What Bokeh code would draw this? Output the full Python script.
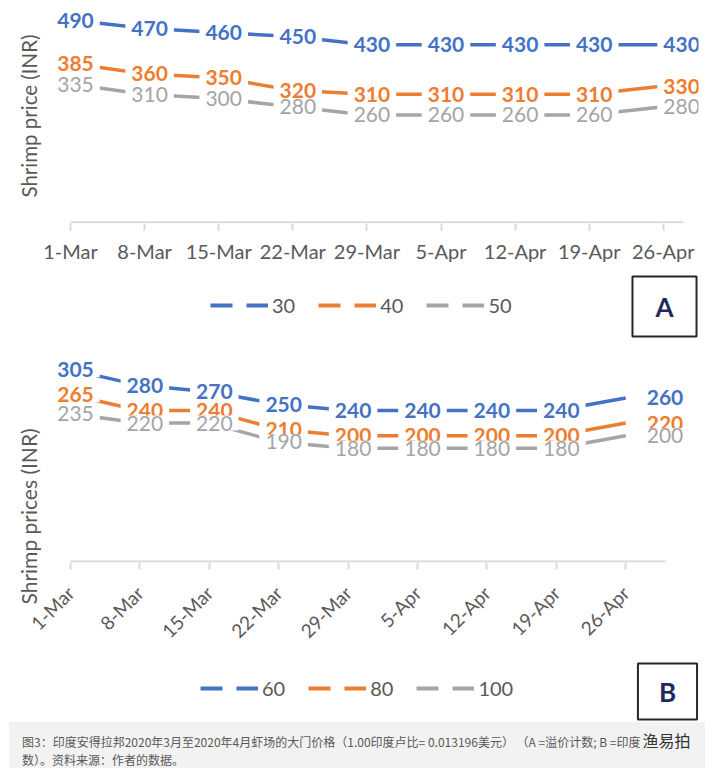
import math
from bokeh.plotting import figure
from bokeh.models import (ColumnDataSource, Range1d, FixedTicker, Legend, LegendItem,
                          Label, Title, Div)
from bokeh.layouts import column
from bokeh.embed import file_html
from bokeh.resources import INLINE
from bokeh.core.properties import value

# ---------------- data ----------------
dates = ["1-Mar", "8-Mar", "15-Mar", "22-Mar", "29-Mar", "5-Apr", "12-Apr", "19-Apr", "26-Apr"]

# Panel A (count grades 30 / 40 / 50)
a_labels = ["30", "40", "50"]
a_30 = [490, 470, 460, 450, 430, 430, 430, 430, 430]
a_40 = [385, 360, 350, 320, 310, 310, 310, 310, 330]
a_50 = [335, 310, 300, 280, 260, 260, 260, 260, 280]

# Panel B (count grades 60 / 80 / 100)
b_labels = ["60", "80", "100"]
b_60 = [305, 280, 270, 250, 240, 240, 240, 240, 260]
b_80 = [265, 240, 240, 210, 200, 200, 200, 200, 220]
b_100 = [235, 220, 220, 190, 180, 180, 180, 180, 200]

y_title_a = "Shrimp price (INR)"
y_title_b = "Shrimp prices (INR)"
caption_1 = "图3：印度安得拉邦2020年3月至2020年4月虾场的大门价格（1.00印度卢比= 0.013196美元） （A =溢价计数; B =印度"
caption_2 = "数）。资料来源：作者的数据。"
watermark = "渔易拍"

# ---------------- style ----------------
BLUE = "#4472c4"
ORANGE = "#ed7d31"
GRAY = "#a5a5a5"
AXC = "#595959"
TICKC = "#d9d9d9"
FONT = "Lato"
colors = [BLUE, ORANGE, GRAY]
styles = ["bold", "bold", "normal"]
W = 699
LEFT = 40

idx = list(range(len(dates)))


def chart(series, fig_h, x_rng, y_rng, b_top, b_bottom, label_dx, last_dx, base_end,
          tick_orient, tick_size, standoff, ytitle, ytitle_size, ytitle_align, ytitle_offset):
    p = figure(width=W, height=fig_h, x_range=Range1d(*x_rng), y_range=Range1d(*y_rng),
               output_backend="svg", toolbar_location=None, y_axis_type=None,
               min_border_left=LEFT, min_border_right=1, min_border_top=b_top,
               min_border_bottom=b_bottom)
    p.outline_line_color = None
    p.xgrid.visible = False
    p.ygrid.visible = False
    ax = p.xaxis[0]
    ax.ticker = FixedTicker(ticks=idx)
    ax.major_label_overrides = {i: d for i, d in enumerate(dates)}
    ax.axis_line_color = None
    ax.major_tick_line_color = TICKC
    ax.major_tick_line_width = 2
    ax.major_tick_out = 7
    ax.major_tick_in = 0
    ax.minor_tick_line_color = None
    ax.major_label_text_font = FONT
    ax.major_label_text_font_size = tick_size
    ax.major_label_text_color = AXC
    ax.major_label_standoff = standoff
    if tick_orient:
        ax.major_label_orientation = tick_orient

    p.add_layout(Title(text=ytitle, align=ytitle_align, offset=ytitle_offset, standoff=0,
                       text_font=FONT, text_font_size=ytitle_size, text_font_style="normal",
                       text_color=AXC), "left")

    # category axis baseline
    p.segment(x0=[0], y0=[0], x1=[base_end], y1=[0], line_color=TICKC, line_width=2)

    for vals, c in zip(series, colors):
        p.line(x=idx, y=vals, line_color=c, line_width=3.5)

    for vals, c, fs in zip(series, colors, styles):
        src = ColumnDataSource(dict(x=idx[:-1], y=vals[:-1], t=[str(v) for v in vals[:-1]]))
        p.text(x="x", y="y", text="t", source=src, text_align="center", text_baseline="middle",
               x_offset=label_dx, text_color=c, text_font=value(FONT), text_font_size="21px",
               text_font_style=fs, background_fill_color="white", padding=dict(x=6, y=0))
        src2 = ColumnDataSource(dict(x=idx[-1:], y=vals[-1:], t=[str(v) for v in vals[-1:]]))
        p.text(x="x", y="y", text="t", source=src2, text_align="left", text_baseline="middle",
               x_offset=last_dx, text_color=c, text_font=value(FONT), text_font_size="21px",
               text_font_style=fs, background_fill_color="white", padding=dict(x=6, y=0))
    return p


def strip(names, h, leg_loc, leg_spacing, box_xy, box_text, box_pad):
    s = figure(width=W, height=h, x_range=Range1d(LEFT, W - 1), y_range=Range1d(h, 0),
               x_axis_type=None, y_axis_type=None, output_backend="svg",
               toolbar_location=None, min_border=0, min_border_left=LEFT,
               min_border_right=1)
    s.outline_line_color = None
    s.grid.visible = False
    items = []
    for name, c in zip(names, colors):
        r = s.line(x=[float("nan")], y=[float("nan")], line_color=c, line_width=4,
                   line_dash="22 14")
        items.append(LegendItem(label=name, renderers=[r]))
    leg = Legend(items=items, location=leg_loc, orientation="horizontal", padding=0,
                 margin=0, spacing=leg_spacing, glyph_width=58, glyph_height=20,
                 label_height=20, label_standoff=4, label_text_font=FONT,
                 label_text_font_size="20px", label_text_color=AXC,
                 border_line_color=None, background_fill_alpha=0)
    s.add_layout(leg, "center")
    s.add_layout(Label(x=box_xy[0], y=box_xy[1], text=box_text, text_align="center",
                       text_baseline="middle", text_font=FONT, text_font_size="26px",
                       text_font_style="bold", text_color="#1f2a5c",
                       border_line_color="#262626", border_line_width=2,
                       background_fill_color="white", padding=box_pad))
    return s


pa = chart([a_30, a_40, a_50], 272, (-0.405, 8.475), (-3, 518), 8, 49, 5, -6,
           len(dates) - 1 + 0.27, None, "20px", 8, y_title_a, "20.5px", "center", 0)
sa = strip(a_labels, 73, (210 - LEFT, 28), 23, (664, 34), "A", dict(x=23, y=14))

pb = chart([b_60, b_80, b_100], 308, (-0.432, 9.049), (-1.6, 335.4), 5, 90, 5, 15,
           len(dates) - 1 + 0.573, math.pi / 4, "19px", 20, y_title_b, "21px", "left", -42)
sb = strip(b_labels, 69, (200 - LEFT, 22), 23, (667, 38), "B", dict(x=21, y=12))

caption_html = (
    '<div style="line-height:18px;">' + caption_1 +
    '<span style="font-size:16px;color:#333333;margin-left:2px;">' + watermark + '</span>'
    '<br>' + caption_2 + '</div>'
)
pc = Div(text=caption_html, width=696, height=46, margin=(0, 0, 0, 9),
         styles={"background-color": "#f2f2f2", "font-family": "'Noto Sans CJK SC'",
                 "font-size": "12px", "color": AXC, "padding": "9px 0 0 13px",
                 "box-sizing": "border-box", "white-space": "nowrap", "overflow": "hidden"})

layout = column(pa, sa, pb, sb, pc)
open("out.html", "w").write(file_html(layout, INLINE))
